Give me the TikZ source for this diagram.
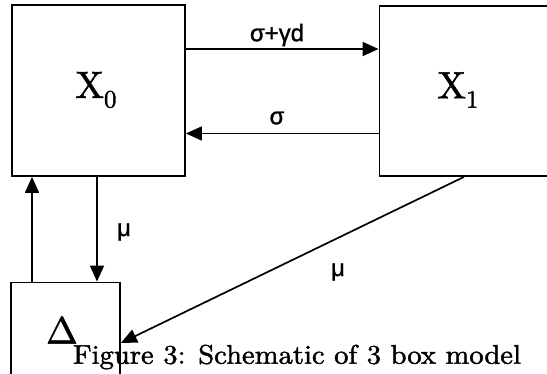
\documentclass[tikz,border=0pt]{standalone}
\usepackage{fontspec}
\newfontfamily\lsans{Liberation Sans}[FakeBold=1.2]
\newfontfamily\lroman{lmroman10-regular.otf}[FakeBold=1.5]
\newcommand{\lowsub}[1]{\raisebox{-0.25em}{\fontsize{25}{25}\selectfont #1}}
\usetikzlibrary{arrows.meta}
\begin{document}
\begin{tikzpicture}[x=1pt,y=-1pt,
  boxn/.style={draw,line width=1.8pt,rectangle,inner sep=0pt},
  arr/.style={line width=1.7pt,-{Triangle[length=16pt,width=14pt]}},
  lab/.style={inner sep=0pt,font=\lsans\fontsize{24}{24}\selectfont},
  big/.style={inner sep=0pt,font=\lroman\fontsize{38}{38}\selectfont}]
\useasboundingbox (0,0) rectangle (547,373);
\clip (0,0) rectangle (547,373);
\node[boxn,minimum width=173pt,minimum height=171pt] (X0) at (98.5,90.5) {};
\node[boxn,minimum width=190pt,minimum height=170pt] (X1) at (474.5,91) {};
\node[boxn,minimum width=109pt,minimum height=100pt] (D) at (65.5,332.5) {};
\node[big] (lx0) at (96,90) {X\lowsub{0}};
\node[big] (lx1) at (458,90) {X\lowsub{1}};
\node[big] (ld) at (62,330) {Δ};
\coordinate (t1) at (0,49);
\coordinate (t2) at (0,133.5);
\coordinate (u1) at (32,0);
\coordinate (u2) at (97,0);
\coordinate (c1) at (464,0);
\coordinate (c2) at (0,343);
\draw[arr] (X0.east |- t1) -- (X1.west |- t1);
\draw[arr] (X1.west |- t2) -- (X0.east |- t2);
\draw[arr] (D.north -| u1) -- (X0.south -| u1);
\draw[arr] (X0.south -| u2) -- (D.north -| u2);
\draw[arr] (X1.south -| c1) -- (D.east |- c2);
\node[lab] (l1) at (277,35) {σ+γd};
\node[lab] (l2) at (277,118) {σ};
\node[lab] (l3) at (124,232) {μ};
\node[lab] (l4) at (338,272) {μ};
\node[inner sep=0pt,font=\lroman\fontsize{27}{27}\selectfont] (cap) at (297,357) {\scalebox{1.06}[1]{Figure 3: Schematic of 3 box model}};
\end{tikzpicture}
\end{document}
